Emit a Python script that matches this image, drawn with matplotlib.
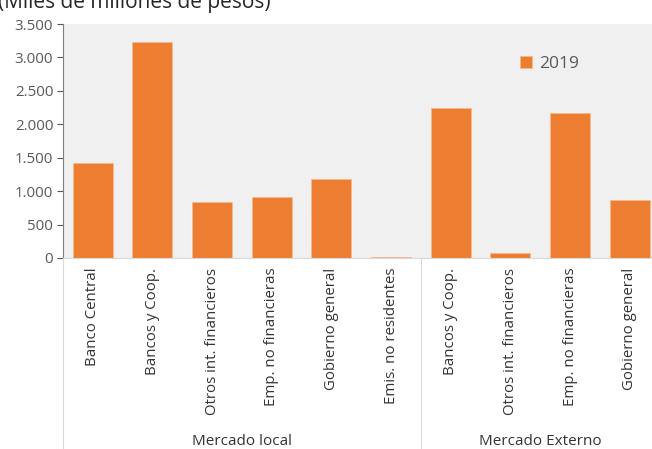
import matplotlib.pyplot as plt
from matplotlib.lines import Line2D
from matplotlib.ticker import FuncFormatter

plt.rcParams['font.family'] = ['Open Sans', 'DejaVu Sans']

categorias = ['Banco Central', 'Bancos y Coop.', 'Otros int. financieros',
              'Emp. no financieras', 'Gobierno general', 'Emis. no residentes',
              'Bancos y Coop.', 'Otros int. financieros', 'Emp. no financieras',
              'Gobierno general']
valores_2019 = [1420, 3225, 840, 905, 1185, 10, 2245, 75, 2175, 865]
grupos = ['Mercado local', 'Mercado Externo']
tam_grupos = [6, 4]
yticks = [0, 500, 1000, 1500, 2000, 2500, 3000, 3500]

naranja = '#ED7D31'
gris = '#595959'

fig = plt.figure(figsize=(6.52, 4.49), dpi=100)
ax = fig.add_axes([0.0966, 0.4254, 0.915, 0.5211])
ax.set_facecolor('#f0f0f0')

x = list(range(len(categorias)))
ax.bar(x, valores_2019, width=0.67, color=naranja, edgecolor='#f6b98f',
       linewidth=0.6, label='2019', zorder=2)

ax.set_xlim(-0.5, len(categorias) - 0.5)
ax.set_ylim(0, 3500)
ax.set_yticks(yticks)
ax.yaxis.set_major_formatter(FuncFormatter(lambda v, p: f'{int(v):,}'.replace(',', '.')))
ax.tick_params(axis='y', colors=gris, labelsize=10.8, length=4, width=0.8, pad=3)
ax.tick_params(axis='y', labelcolor=gris)
ax.set_xticks(x)
ax.set_xticklabels(categorias, rotation=90, fontsize=10.8, color='#333333')
ax.tick_params(axis='x', length=0, pad=7)

for s in ['top', 'right']:
    ax.spines[s].set_visible(False)
ax.spines['left'].set_color('#7f7f7f')
ax.spines['bottom'].set_color('#d9d9d9')

# lineas de separacion de grupos bajo el eje
y0 = 1 - 258 / 449
fig.add_artist(Line2D([63 / 652, 63 / 652], [0, y0], color='#d9d9d9', lw=0.8))
fig.add_artist(Line2D([421 / 652, 421 / 652], [0, y0], color='#d9d9d9', lw=0.8))

inicio = -0.5
for g, n in zip(grupos, tam_grupos):
    centro = inicio + n / 2
    ax.text(centro, -0.785, g, transform=ax.get_xaxis_transform(),
            ha='center', va='center', fontsize=11, color='#333333')
    inicio += n

ax.legend(loc='upper left', bbox_to_anchor=(0.74, 0.93), frameon=False,
          fontsize=12.5, handlelength=0.7, handleheight=0.7, handletextpad=0.4,
          labelcolor=gris)

fig.text(-0.003, 1 - 13 / 449, '(Miles de millones de pesos)', fontsize=15,
         color='#262626', ha='left', va='bottom')

fig.savefig('out.png', dpi=100)
